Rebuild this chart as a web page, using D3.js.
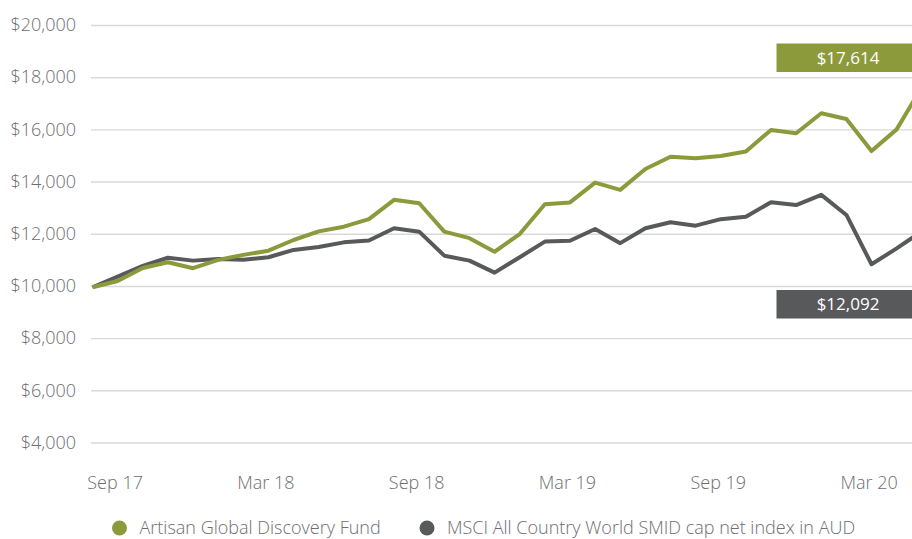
<!DOCTYPE html>
<html>
<head>
<meta charset="utf-8">
<script src="https://cdn.jsdelivr.net/npm/d3@7"></script>
<style>
  body { margin: 0; background: #fff; }
  svg { display: block; font-family: "Open Sans", sans-serif; font-weight: 300; }
  .tick text { fill: #6d6e71; }
</style>
</head>
<body>
<div id="chart"></div>
<script>
// month-end categories, Aug 17 (start) to May 20
var months = ["Aug 17","Sep 17","Oct 17","Nov 17","Dec 17","Jan 18","Feb 18","Mar 18","Apr 18","May 18","Jun 18","Jul 18",
  "Aug 18","Sep 18","Oct 18","Nov 18","Dec 18","Jan 19","Feb 19","Mar 19","Apr 19","May 19","Jun 19","Jul 19",
  "Aug 19","Sep 19","Oct 19","Nov 19","Dec 19","Jan 20","Feb 20","Mar 20","Apr 20","May 20"];

var fundValues = [9950,10190,10690,10910,10680,11000,11190,11350,11760,12090,12270,12560,
  13300,13170,12080,11830,11310,11990,13130,13200,13960,13680,14480,14950,
  14890,14980,15150,15980,15850,16620,16400,15170,16000,17614];

var indexValues = [9950,10360,10770,11080,10970,11030,11000,11100,11380,11490,11670,11740,
  12210,12080,11160,10970,10510,11100,11700,11730,12180,11640,12210,12440,
  12310,12560,12650,13210,13100,13490,12720,10830,11440,12092];

var yTicks = [4000,6000,8000,10000,12000,14000,16000,18000,20000];
var xTicks = ["Sep 17","Mar 18","Sep 18","Mar 19","Sep 19","Mar 20"];

var seriesNames = ["Artisan Global Discovery Fund", "MSCI All Country World SMID cap net index in AUD"];
var colors = ["#8c9a3c", "#58595b"];

var width = 912, height = 539;

var svg = d3.select("#chart")
  .append("svg")
  .attr("width", width)
  .attr("height", height);

var x = d3.scalePoint()
  .domain(months)
  .range([92.5, 921.8]);

var y = d3.scaleLinear()
  .domain([4000, 20000])
  .range([442.5, 25]);

// gridlines + y labels
var yAxisG = svg.append("g")
  .attr("transform", "translate(912,0)")
  .call(d3.axisLeft(y)
    .tickValues(yTicks)
    .tickSize(821)
    .tickPadding(15)
    .tickFormat(d => "$" + d3.format(",")(d)));
yAxisG.select(".domain").remove();
yAxisG.selectAll(".tick line").attr("stroke", "#d9d9d9").attr("stroke-width", 1.4);
yAxisG.selectAll(".tick text").attr("font-size", 18).attr("font-family", "Open Sans").attr("font-weight", 300);

// x labels
var xAxisG = svg.append("g")
  .attr("transform", "translate(0,442.5)")
  .call(d3.axisBottom(x)
    .tickValues(xTicks)
    .tickSize(0)
    .tickPadding(34));
xAxisG.select(".domain").remove();
xAxisG.selectAll(".tick text")
  .attr("font-size", 18)
  .attr("font-family", "Open Sans")
  .attr("font-weight", 300)
  .attr("dx", -3);

// lines
var line = d3.line()
  .x((d, i) => x(months[i]))
  .y(d => y(d));

var plot = svg.append("g");
[indexValues, fundValues].forEach(function(vals, k) {
  plot.append("path")
    .datum(vals)
    .attr("fill", "none")
    .attr("stroke", k == 0 ? colors[1] : colors[0])
    .attr("stroke-width", 4)
    .attr("stroke-linejoin", "round")
    .attr("d", line);
});

// end value boxes
var endLabels = [
  {val: fundValues[fundValues.length - 1], color: colors[0], top: 43.5},
  {val: indexValues[indexValues.length - 1], color: colors[1], top: 290}
];
endLabels.forEach(function(b) {
  svg.append("rect")
    .attr("x", 776.5)
    .attr("y", b.top)
    .attr("width", 136)
    .attr("height", 28.5)
    .attr("fill", b.color);
  svg.append("text")
    .attr("x", 848)
    .attr("y", b.top + 14.5)
    .attr("dy", "0.35em")
    .attr("text-anchor", "middle")
    .attr("fill", "#fff")
    .attr("font-size", 17)
    .attr("font-weight", 400)
    .text("$" + d3.format(",")(b.val));
});

// legend
var legendX = [119.5, 427];
var legend = svg.append("g");
seriesNames.forEach(function(name, i) {
  legend.append("circle")
    .attr("cx", legendX[i])
    .attr("cy", 528)
    .attr("r", 7.5)
    .attr("fill", colors[i]);
  legend.append("text")
    .attr("x", legendX[i] + 20)
    .attr("y", 534)
    .attr("font-size", 18)
    .attr("fill", "#6d6e71")
    .text(name);
});
</script>
</body>
</html>
